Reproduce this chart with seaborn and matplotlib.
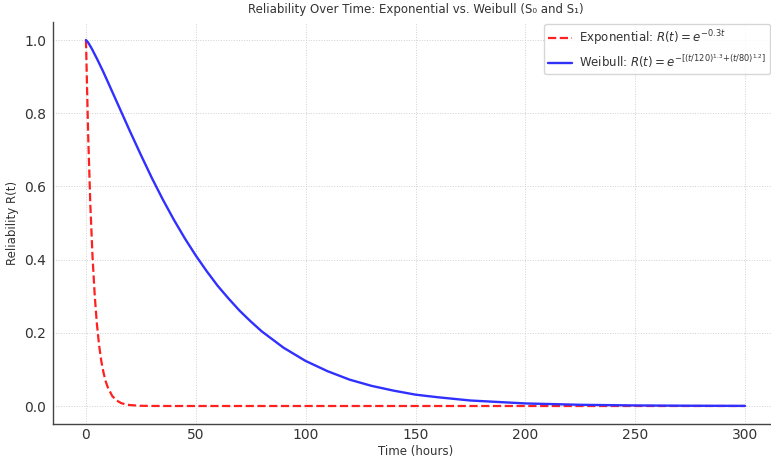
import pandas as pd
import matplotlib
matplotlib.use("Agg")
import matplotlib.pyplot as plt
import seaborn as sns

# Exponential curve (hours, reliability)
EXP_T = [0, 1, 2, 3, 4, 5, 6, 7, 8, 9, 10, 12, 14, 16, 18, 20, 25, 30, 40, 60,
         100, 150, 200, 250, 300]
EXP_R = [1.0, 0.741, 0.549, 0.407, 0.301, 0.223, 0.165, 0.122, 0.091, 0.067,
         0.050, 0.027, 0.015, 0.008, 0.0045, 0.0025, 0.0006, 0.0001, 0.0, 0.0,
         0.0, 0.0, 0.0, 0.0, 0.0]

# Weibull curve
WEI_T = [0, 1, 2.5, 5, 7.5, 10, 15, 20, 25, 30, 35, 40, 45, 50, 55, 60, 65, 70,
         75, 80, 90, 100, 110, 120, 130, 140, 150, 160, 175, 200, 225, 250,
         275, 300]
WEI_R = [1.0, 0.993, 0.978, 0.949, 0.918, 0.885, 0.818, 0.751, 0.686, 0.623,
         0.564, 0.509, 0.458, 0.411, 0.368, 0.328, 0.293, 0.260, 0.231, 0.204,
         0.159, 0.123, 0.095, 0.072, 0.055, 0.042, 0.031, 0.024, 0.015, 0.007,
         0.0033, 0.0015, 0.0007, 0.0003]

EXP_LABEL = r"Exponential: $R(t) = e^{-0.3t}$"
WEI_LABEL = r"Weibull: $R(t) = e^{-[(t/120)^{1.3}\!+\!(t/80)^{1.2}]}$"

TEXT = "#333333"


def run():
    sns.set_style("white")
    plt.rcParams["font.family"] = ["DejaVu Sans"]
    plt.rcParams["mathtext.fontset"] = "dejavusans"

    df_exp = pd.DataFrame({"t": EXP_T, "R": EXP_R})
    df_wei = pd.DataFrame({"t": WEI_T, "R": WEI_R})

    fig = plt.figure(figsize=(7.71, 4.61), dpi=100)
    ax = fig.add_axes([53 / 771, 36.7 / 461, 725 / 771, 402.6 / 461])

    sns.lineplot(data=df_exp, x="t", y="R", ax=ax, color="#ff2020",
                 linestyle="--", linewidth=1.6, label=EXP_LABEL)
    sns.lineplot(data=df_wei, x="t", y="R", ax=ax, color="#3030ff",
                 linewidth=1.7, label=WEI_LABEL)

    ax.set_xlim(-15, 315)
    ax.set_ylim(-0.05, 1.05)
    ax.set_xticks([0, 50, 100, 150, 200, 250, 300])
    ax.set_yticks([0.0, 0.2, 0.4, 0.6, 0.8, 1.0])
    ax.set_yticklabels(["0.0", "0.2", "0.4", "0.6", "0.8", "1.0"])

    ax.grid(True, linestyle=":", color="#d0d0d0", linewidth=0.7)
    for side in ["top", "right"]:
        ax.spines[side].set_visible(False)
    for side in ["left", "bottom"]:
        ax.spines[side].set_color("#444444")
        ax.spines[side].set_linewidth(1.0)
    ax.tick_params(axis="x", direction="in", length=3, colors="#555555",
                   labelcolor=TEXT, labelsize=10, pad=3)
    ax.tick_params(axis="y", direction="out", length=3, colors="#555555",
                   labelcolor=TEXT, labelsize=10, pad=2)

    ax.set_title("Reliability Over Time: Exponential vs. Weibull (S\u2080 and S\u2081)",
                 fontsize=8.5, color=TEXT, pad=6)
    ax.set_xlabel("Time (hours)", fontsize=8.5, color=TEXT, labelpad=2)
    ax.set_ylabel("Reliability R(t)", fontsize=8.5, color=TEXT)

    leg = ax.legend(loc="upper right", bbox_to_anchor=(770 / 771, 1 - 24 / 461),
                    bbox_transform=fig.transFigure, fontsize=8.5,
                    frameon=True, borderaxespad=0, handletextpad=0.6,
                    borderpad=0.35, labelspacing=0.4)
    leg.get_frame().set_edgecolor("#cccccc")
    for txt in leg.get_texts():
        txt.set_color(TEXT)

    fig.savefig("out.png", dpi=100)
    plt.close(fig)


if __name__ == "__main__":
    run()
